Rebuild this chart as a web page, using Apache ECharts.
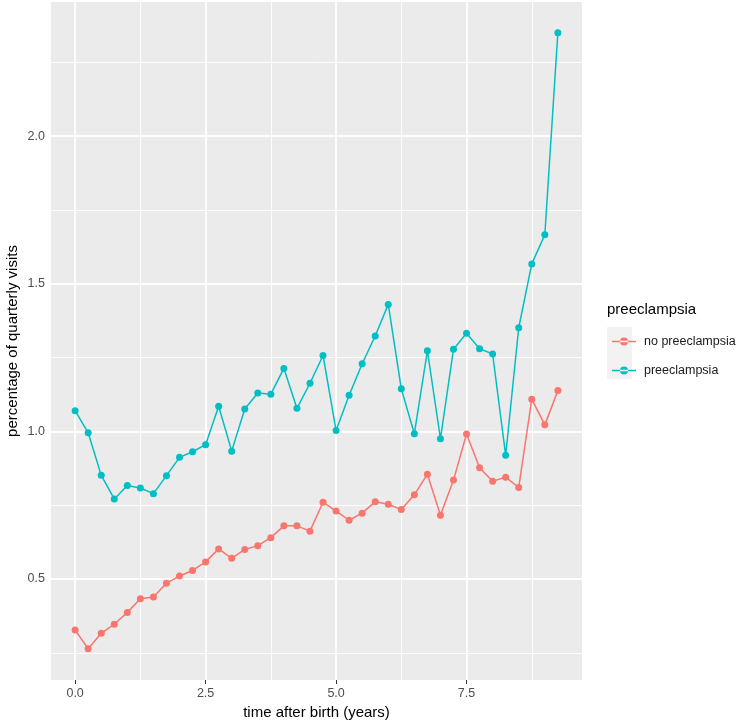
<!DOCTYPE html>
<html>
<head>
<meta charset="utf-8">
<script src="https://cdn.jsdelivr.net/npm/echarts@6/dist/echarts.min.js"></script>
<style>
  html, body { margin: 0; padding: 0; background: #fff; }
  #chart { width: 743px; height: 722px; }
</style>
</head>
<body>
<div id="chart"></div>
<script>
// time after birth, quarterly steps
var years = [0, 0.25, 0.5, 0.75, 1, 1.25, 1.5, 1.75, 2, 2.25, 2.5, 2.75, 3, 3.25, 3.5, 3.75,
  4, 4.25, 4.5, 4.75, 5, 5.25, 5.5, 5.75, 6, 6.25, 6.5, 6.75, 7, 7.25, 7.5, 7.75,
  8, 8.25, 8.5, 8.75, 9, 9.25]

var noPreeclampsia = [0.327, 0.264, 0.316, 0.347, 0.387, 0.433, 0.439, 0.486, 0.510, 0.529,
  0.558, 0.602, 0.570, 0.600, 0.613, 0.640, 0.680, 0.680, 0.662, 0.760, 0.730, 0.699,
  0.723, 0.762, 0.753, 0.735, 0.785, 0.855, 0.716, 0.835, 0.991, 0.877, 0.831, 0.845,
  0.810, 1.109, 1.022, 1.138]

var preeclampsia = [1.070, 0.995, 0.851, 0.771, 0.817, 0.808, 0.789, 0.850, 0.912, 0.931,
  0.955, 1.085, 0.933, 1.076, 1.130, 1.126, 1.213, 1.078, 1.163, 1.257, 1.003, 1.122,
  1.229, 1.323, 1.430, 1.144, 0.992, 1.273, 0.975, 1.278, 1.332, 1.280, 1.262, 0.919,
  1.351, 1.567, 1.666, 2.350]

var xTicks = [0, 2.5, 5, 7.5]
var xMinor = [1.25, 3.75, 6.25, 8.75]
var yTicks = [0.5, 1.0, 1.5, 2.0]
var yMinor = [0.25, 0.75, 1.25, 1.75, 2.25]

var seriesNames = ['no preeclampsia', 'preeclampsia']
var colors = ['#F8766D', '#00BFC4']

var font = '"Liberation Sans", Arial, sans-serif'

function pairs (ys) {
  return years.map(function (x, i) { return [x, ys[i]] })
}

// panel grid lines, major thicker than minor
var gridLines = []
xTicks.forEach(function (v) { gridLines.push({ xAxis: v, lineStyle: { width: 1.8 } }) })
xMinor.forEach(function (v) { gridLines.push({ xAxis: v, lineStyle: { width: 0.9 } }) })
yTicks.forEach(function (v) { gridLines.push({ yAxis: v, lineStyle: { width: 1.8 } }) })
yMinor.forEach(function (v) { gridLines.push({ yAxis: v, lineStyle: { width: 0.9 } }) })

var chart = echarts.init(document.getElementById('chart'))

var option = {
  animation: false,
  color: colors,
  textStyle: { fontFamily: font },
  grid: {
    left: 51,
    right: 161,
    top: 2,
    bottom: 42,
    outerBoundsMode: 'none',
    containLabel: false,
    show: true,
    backgroundColor: '#EBEBEB',
    borderWidth: 0
  },
  xAxis: {
    type: 'value',
    min: -0.4625,
    max: 9.7125,
    name: 'time after birth (years)',
    nameLocation: 'middle',
    nameGap: 24,
    nameTextStyle: { color: '#000', fontSize: 15, fontFamily: font },
    axisLine: { show: false },
    axisTick: { show: true, customValues: xTicks, length: 4, lineStyle: { color: '#333', width: 1 } },
    axisLabel: {
      customValues: xTicks,
      color: '#4d4d4d',
      fontSize: 12.5,
      margin: 7,
      fontFamily: font,
      formatter: function (v) { return v.toFixed(1) }
    },
    splitLine: { show: false }
  },
  yAxis: {
    type: 'value',
    min: 0.158,
    max: 2.454,
    name: 'percentage of quarterly visits',
    nameLocation: 'middle',
    nameGap: 31,
    nameMoveOverlap: false,
    nameTextStyle: { color: '#000', fontSize: 15, fontFamily: font },
    axisLine: { show: false },
    axisTick: { show: true, customValues: yTicks, length: 4, lineStyle: { color: '#333', width: 1 } },
    axisLabel: {
      customValues: yTicks,
      color: '#4d4d4d',
      fontSize: 12.5,
      margin: 6,
      fontFamily: font,
      formatter: function (v) { return v.toFixed(1) }
    },
    splitLine: { show: false }
  },
  legend: {
    orient: 'vertical',
    left: 607,
    top: 330,
    itemWidth: 24,
    itemHeight: 10,
    itemGap: 16,
    icon: 'path://M0,4.3 L24,4.3 L24,5.7 L0,5.7 Z M8,5 A4,4 0 1,0 16,5 A4,4 0 1,0 8,5 Z',
    textStyle: { color: '#1a1a1a', fontSize: 12.5, fontFamily: font, padding: [0, 0, 0, 3] },
    data: seriesNames
  },
  graphic: [
    {
      type: 'rect',
      shape: { x: 607, y: 327, width: 25, height: 52 },
      style: { fill: '#F2F2F2' },
      z: 0
    },
    {
      type: 'text',
      left: 607,
      top: 302,
      style: { text: 'preeclampsia', fill: '#000', fontSize: 15, fontFamily: font }
    }
  ],
  series: [
    {
      type: 'line',
      name: '_grid',
      data: [],
      z: 1,
      silent: true,
      markLine: {
        silent: true,
        z: 1,
        symbol: ['none', 'none'],
        label: { show: false },
        lineStyle: { color: '#ffffff', type: 'solid' },
        data: gridLines
      }
    },
    {
      type: 'line',
      name: seriesNames[0],
      data: pairs(noPreeclampsia),
      symbol: 'circle',
      symbolSize: 7,
      lineStyle: { width: 1.5, color: colors[0] },
      itemStyle: { color: colors[0] },
      z: 3
    },
    {
      type: 'line',
      name: seriesNames[1],
      data: pairs(preeclampsia),
      symbol: 'circle',
      symbolSize: 7,
      lineStyle: { width: 1.5, color: colors[1] },
      itemStyle: { color: colors[1] },
      z: 3
    }
  ]
}

chart.setOption(option)
</script>
</body>
</html>
